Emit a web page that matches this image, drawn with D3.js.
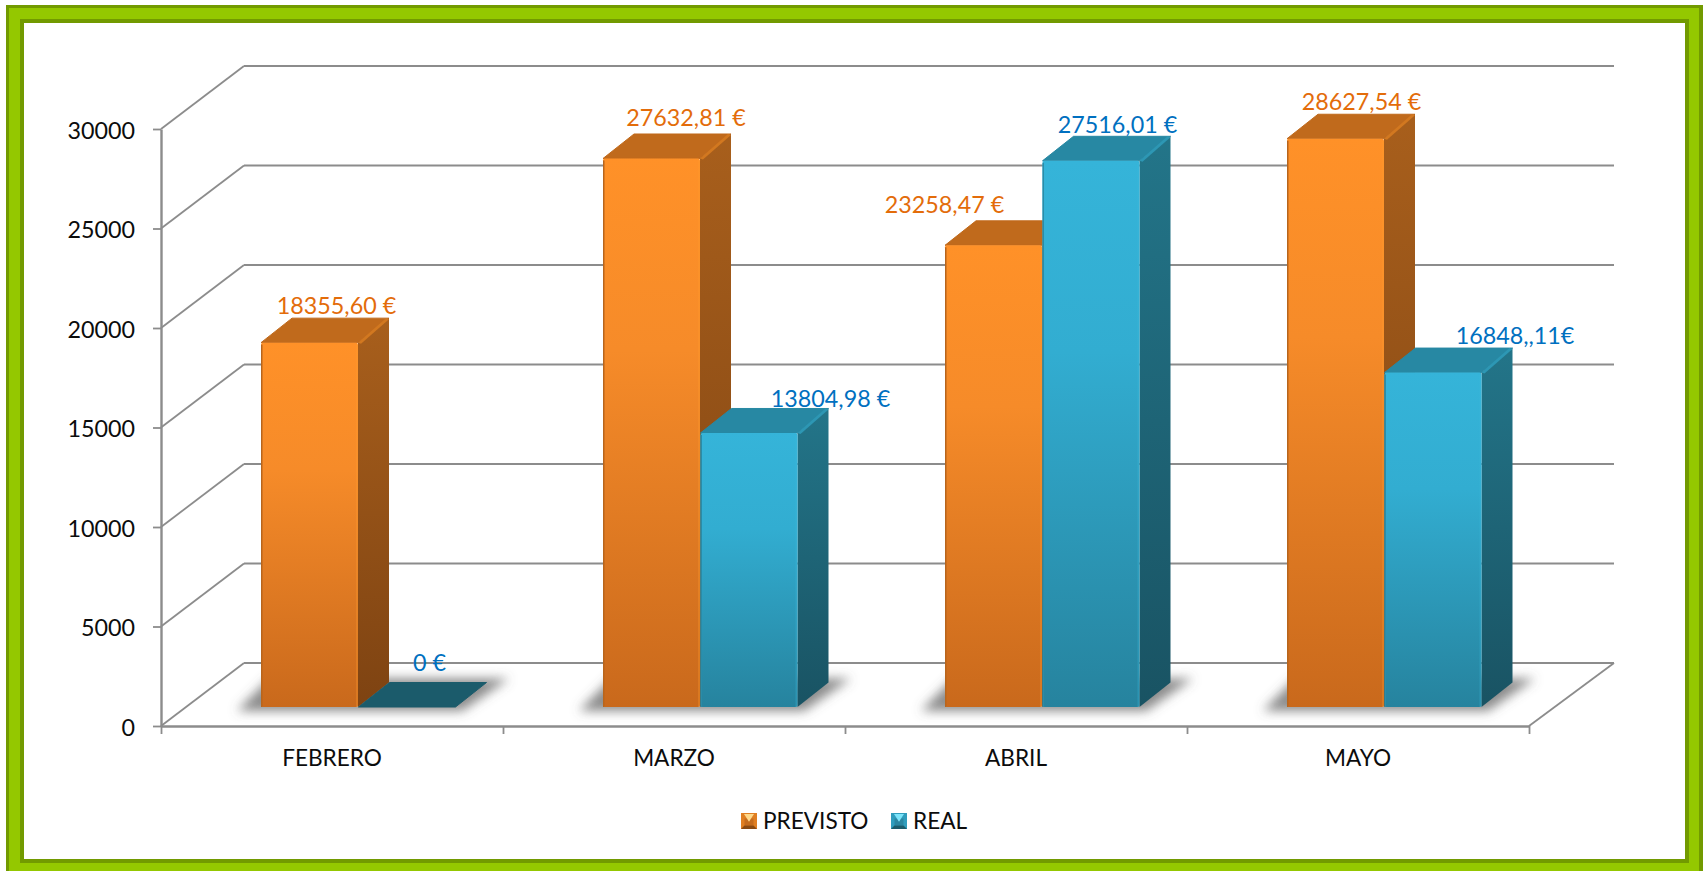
<!DOCTYPE html>
<html lang="es">
<head>
<meta charset="utf-8">
<title>Previsto y real por mes</title>
<script src="https://cdn.jsdelivr.net/npm/d3@7"></script>
<style>
  html, body { margin: 0; padding: 0; background: #fff; overflow: hidden; }
  svg { display: block; }
  text { font-family: Lato, "Open Sans", sans-serif; }
</style>
</head>
<body>
<svg id="chart" width="1706" height="871"></svg>
<script>
// Chart values
const months = ["FEBRERO", "MARZO", "ABRIL", "MAYO"];
const seriesNames = ["PREVISTO", "REAL"];
const previsto = [18355.60, 27632.81, 23258.47, 28627.54];
const real = [0, 13804.98, 27516.01, 16848.11];
const previstoLabels = ["18355,60 €", "27632,81 €", "23258,47 €", "28627,54 €"];
const realLabels = ["0 €", "13804,98 €", "27516,01 €", "16848,,11€"];
const yTicks = [0, 5000, 10000, 15000, 20000, 25000, 30000];

// Hand-placed offsets of the value labels, relative to the top back edge of each bar
const previstoNudge = [[11.5, -4], [19, -8], [-64.5, -8], [10.5, -4]];
const realNudge = [[7, -11.5], [66, -1.5], [11, -3], [66.5, -4]];

// Oblique projection of the chart box
const plot = { left: 161, right: 1529, floor: 726, top: 129, depthX: 83, depthXRight: 85, depthY: 63 };
const bar = { base: 707, width: 97, depthX: 31, depthY: 24.5, inset: 100, span: 195 };

const palette = {
  PREVISTO: {
    front: ["#FF9128", "#F68B29", "#C9691C"], side: ["#A85F1C", "#7E4312"], top: "#C06A1C",
    rim: "#D27820", edgeL: "#B8651C", edgeR: "#FF9A30", text: "#E36C0A",
    swatch: ["#FFD98A", "#E07F22", "#8A4A12", "#C56C1E"]
  },
  REAL: {
    front: ["#35B4D9", "#32ADD1", "#26839E"], side: ["#237589", "#195363"], top: "#2788A3",
    rim: "#2D97B4", edgeL: "#2A8CA8", edgeR: "#3ABBDF", text: "#0070C0",
    swatch: ["#7CE4FA", "#2F9DBD", "#1B5B6B", "#2A86A1"]
  }
};
const flatTop = "#1B5B6B";
const gridColor = "#8C8C8C";

const svg = d3.select("#chart");
const defs = svg.append("defs");

// Scales
const y = d3.scaleLinear().domain([0, 30000]).range([plot.floor, plot.top]);
const barHeight = d3.scaleLinear().domain([0, 30000]).range([0, 595.5]);
const xMonth = d3.scaleBand().domain(months).range([plot.left, plot.right]);
const xSeries = d3.scaleBand().domain(seriesNames).range([bar.inset, bar.inset + bar.span]);
const xEdges = d3.scaleLinear().domain([0, months.length]).range([plot.left, plot.right]);

// Gradients and the floor shadow blur
seriesNames.forEach(name => {
  const c = palette[name];
  const front = defs.append("linearGradient").attr("id", `front-${name}`)
    .attr("x1", 0).attr("y1", 0).attr("x2", 0).attr("y2", 1);
  front.append("stop").attr("offset", 0).attr("stop-color", c.front[0]);
  front.append("stop").attr("offset", 0.35).attr("stop-color", c.front[1]);
  front.append("stop").attr("offset", 1).attr("stop-color", c.front[2]);
  const side = defs.append("linearGradient").attr("id", `side-${name}`)
    .attr("x1", 0).attr("y1", 0).attr("x2", 0).attr("y2", 1);
  side.append("stop").attr("offset", 0).attr("stop-color", c.side[0]);
  side.append("stop").attr("offset", 1).attr("stop-color", c.side[1]);
});
defs.append("filter").attr("id", "floor-shadow")
  .attr("x", "-20%").attr("y", "-60%").attr("width", "140%").attr("height", "220%")
  .append("feGaussianBlur").attr("stdDeviation", 5.5);

// Page frame: dark / light / dark green bands around the white panel
[
  { x: 6, y: 5, w: 1697, h: 880, fill: "#729A00" },
  { x: 9, y: 8, w: 1690, h: 880, fill: "#94C800" },
  { x: 20, y: 19, w: 1669, h: 844, fill: "#729A00" },
  { x: 24, y: 23, w: 1661, h: 836, fill: "#FFFFFF" }
].forEach(b => svg.append("rect")
  .attr("x", b.x).attr("y", b.y).attr("width", b.w).attr("height", b.h).attr("fill", b.fill));

const line = (x1, y1, x2, y2, w = 2.2) => gridLayer.append("line")
  .attr("x1", x1).attr("y1", y1).attr("x2", x2).attr("y2", y2)
  .attr("stroke", gridColor).attr("stroke-width", w);

// Wall grid: a diagonal on the side wall and a horizontal on the back wall per tick
const gridLayer = svg.append("g");
yTicks.forEach(t => {
  const fy = y(t), by = fy - plot.depthY;
  line(plot.left, fy, plot.left + plot.depthX, by, 1.8);
  line(plot.left + plot.depthX, by, plot.right + plot.depthXRight, by);
});
line(plot.right, plot.floor, plot.right + plot.depthXRight, plot.floor - plot.depthY, 1.8);

// Axes
const yAxis = svg.append("g").attr("transform", `translate(${plot.left},0)`)
  .call(d3.axisLeft(y).tickValues(yTicks).tickFormat(d3.format("d"))
    .tickSize(8).tickSizeOuter(0).tickPadding(18));
const xTickAxis = svg.append("g").attr("transform", `translate(0,${plot.floor})`)
  .call(d3.axisBottom(xEdges).ticks(months.length).tickFormat("").tickSize(8).tickSizeOuter(0));
const xLabelAxis = svg.append("g").attr("transform", `translate(0,${plot.floor})`)
  .call(d3.axisBottom(xMonth).tickSize(0).tickPadding(24));
xLabelAxis.select(".domain").remove();
[yAxis, xTickAxis].forEach(a => {
  a.selectAll(".domain").attr("stroke", gridColor).attr("stroke-width", 2.4);
  a.selectAll(".tick line").attr("stroke", gridColor).attr("stroke-width", 1.8);
});
yAxis.selectAll("text")
  .attr("font-family", "Lato, 'Open Sans', sans-serif")
  .attr("font-size", 23.3).attr("fill", "#0C0C0C").attr("dy", "0.4em");
xLabelAxis.selectAll("text")
  .attr("font-family", "Lato, 'Open Sans', sans-serif")
  .attr("font-size", 22.6).attr("fill", "#0C0C0C");

const poly = (parent, pts) => parent.append("polygon").attr("points", pts.map(p => p.join(",")).join(" "));

// Floor shadow of each month's pair of bars
const shadowLayer = svg.append("g").attr("filter", "url(#floor-shadow)");
months.forEach(m => {
  const l = xMonth(m) + bar.inset, r = l + bar.span;
  poly(shadowLayer, [
    [l - 24, bar.base + 4],
    [l + 8, bar.base - bar.depthY - 4],
    [r + bar.depthX + 22, bar.base - bar.depthY - 4],
    [r + 6, bar.base + 4]
  ]).attr("fill", "#5E5E5E").attr("fill-opacity", 0.72);
});

// One extruded bar: back faces first, front face last
function drawBar(parent, name, month, value) {
  const c = palette[name];
  const x0 = xMonth(month) + xSeries(name);
  const x1 = x0 + bar.width;
  const h = barHeight(value);
  const yTop = bar.base - h;
  const dx = bar.depthX, dy = bar.depthY;
  const g = parent.append("g");

  const topFill = value > 0 ? c.top : flatTop;
  poly(g, [[x0, yTop], [x0 + dx, yTop - dy], [x1 + dx, yTop - dy], [x1, yTop]])
    .attr("fill", topFill).attr("stroke", topFill).attr("stroke-width", 1).attr("stroke-linejoin", "round");
  if (value <= 0) return yTop - dy;

  poly(g, [[x1, yTop], [x1 + dx, yTop - dy], [x1 + dx, bar.base - dy], [x1, bar.base]])
    .attr("fill", `url(#side-${name})`);
  // lit edge between the top and side faces
  poly(g, [[x1, yTop], [x1 + dx - 3, yTop - dy], [x1 + dx, yTop - dy + 1], [x1 + 3, yTop + 1]])
    .attr("fill", c.rim);
  g.append("rect").attr("x", x0).attr("y", yTop).attr("width", bar.width).attr("height", h)
    .attr("rx", 2).attr("fill", `url(#front-${name})`);
  g.append("rect").attr("x", x0).attr("y", yTop + 2).attr("width", 1.5).attr("height", h - 2)
    .attr("fill", c.edgeL);
  g.append("rect").attr("x", x1 - 2).attr("y", yTop + 2).attr("width", 2).attr("height", h - 2)
    .attr("fill", c.edgeR).attr("fill-opacity", 0.3);
  return yTop - dy;
}

// Value label, placed from the bar's top back edge
function drawLabel(parent, name, month, topY, text, nudge) {
  const anchorX = xMonth(month) + xSeries(name) + bar.width / 2 + bar.depthX / 2;
  parent.append("text")
    .attr("x", anchorX + nudge[0]).attr("y", topY + nudge[1])
    .attr("text-anchor", "middle").attr("font-size", 23.3)
    .attr("fill", palette[name].text).text(text);
}

// PREVISTO sits behind REAL within each pair
const barLayer = svg.append("g");
const labelLayer = svg.append("g");
months.forEach((m, i) => {
  const prevTop = drawBar(barLayer, "PREVISTO", m, previsto[i]);
  const realTop = drawBar(barLayer, "REAL", m, real[i]);
  drawLabel(labelLayer, "PREVISTO", m, prevTop, previstoLabels[i], previstoNudge[i]);
  drawLabel(labelLayer, "REAL", m, realTop, realLabels[i], realNudge[i]);
});

// Legend with bevelled swatches
const legendX = d3.scaleOrdinal().domain(seriesNames).range([741, 891]);
const legend = svg.append("g").attr("transform", "translate(0,813)");
seriesNames.forEach(name => {
  const c = palette[name].swatch;
  const g = legend.append("g").attr("transform", `translate(${legendX(name)},0)`);
  const s = 16, b = 3.5;
  g.append("rect").attr("width", s).attr("height", s).attr("fill", c[1]);
  poly(g, [[b, b + 2], [s - b, b + 2], [s - b, s - b], [b, s - b]]).attr("fill", c[3]);
  poly(g, [[3, 1], [s - 3, 1], [s / 2, s * 0.55]]).attr("fill", c[0]);
  poly(g, [[0, s], [s, s], [s - b, s - b], [b, s - b]]).attr("fill", c[2]);
  g.append("text").attr("x", s + 6).attr("y", 8).attr("dy", "0.36em")
    .attr("font-size", 22.6).attr("fill", "#0C0C0C").text(name);
});
</script>
</body>
</html>
